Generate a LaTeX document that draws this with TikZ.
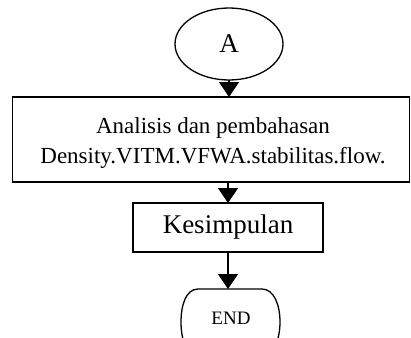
\documentclass[tikz,border=0pt]{standalone}
\usepackage{fontspec}
\setmainfont{Liberation Serif}
\usetikzlibrary{shapes.geometric,arrows.meta}
\begin{document}
\begin{tikzpicture}[x=1pt,y=-1pt,
  every node/.style={inner sep=0pt,outer sep=0pt},
  shp/.style={draw=black,line width=1.3pt},
  arr/.style={line width=1.2pt,-{Triangle[width=20pt,length=15pt]}}]
\useasboundingbox (0,0) rectangle (411,337);
\clip (0,0) rectangle (411,337);
\node[shp,ellipse,minimum width=108pt,minimum height=72pt,font=\fontsize{27}{30}\selectfont] (A) at (229,44) {A};
\node[shp,rectangle,minimum width=397pt,minimum height=85pt] (box1) at (211,139.5) {};
\node[align=center,font=\fontsize{23}{30}\selectfont] (t1) at (213,143) {Analisis dan pembahasan\\Density.VITM.VFWA.stabilitas.flow.};
\node[shp,rectangle,minimum width=190pt,minimum height=49pt,font=\fontsize{27}{30}\selectfont] (box2) at (228,227.5) {Kesimpulan};
\coordinate (endtop) at (229,289);
\draw[shp] (198,289) -- (262,289)
  .. controls (274,289) and (280,305) .. (280,322)
  .. controls (280,339) and (274,355) .. (262,355)
  -- (198,355)
  .. controls (186,355) and (181,339) .. (181,322)
  .. controls (181,305) and (186,289) .. cycle;
\node[font=\fontsize{19}{22}\selectfont] (endtxt) at (231,318) {END};
\draw[arr] (A.south) -- (A.south |- box1.north);
\draw[arr] (box2.north |- box1.south) -- (box2.north);
\draw[arr] (box2.south) -- (box2.south |- endtop);
\end{tikzpicture}
\end{document}
